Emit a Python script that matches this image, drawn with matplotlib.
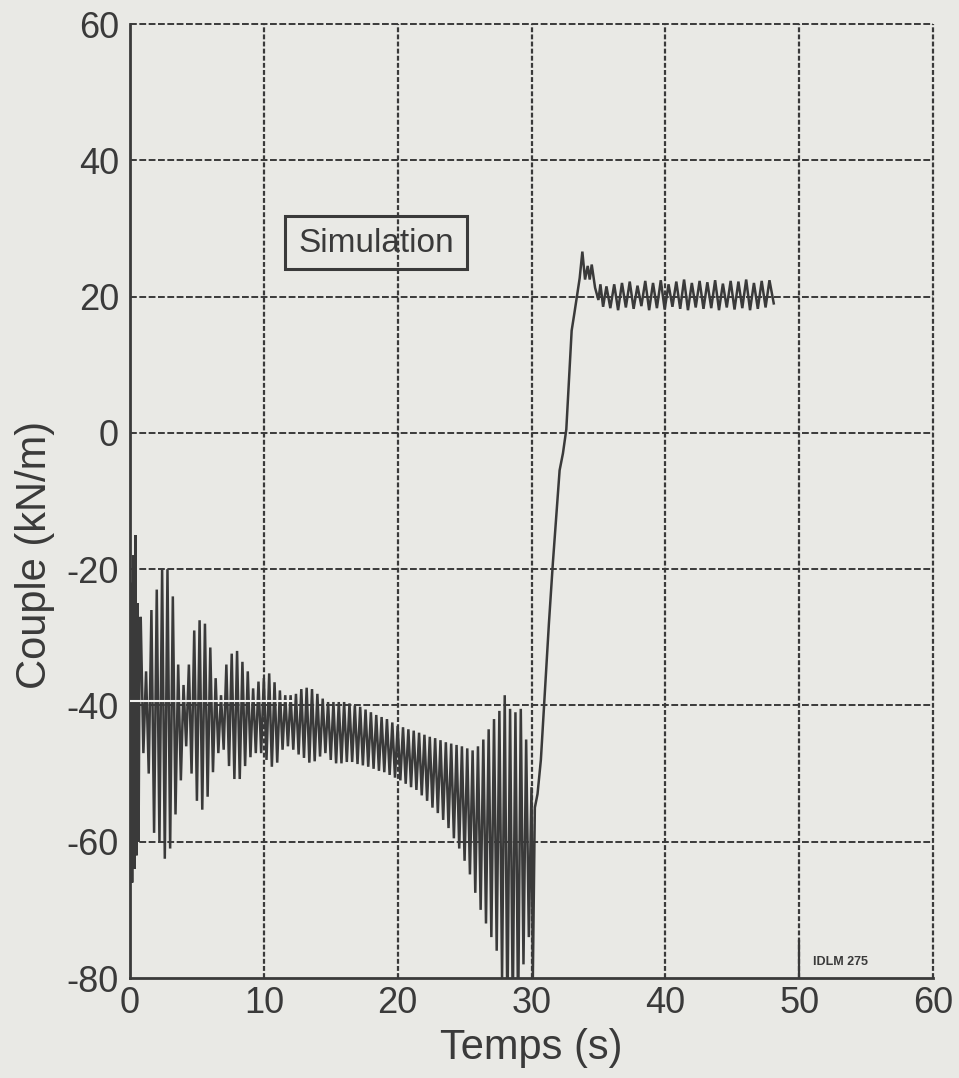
import numpy as np
import matplotlib
matplotlib.use("Agg")
import matplotlib.pyplot as plt
from matplotlib.patches import Rectangle

# ---------------- data ----------------
x_ticks = [0, 10, 20, 30, 40, 50, 60]
y_ticks = [-80, -60, -40, -20, 0, 20, 40, 60]

# start-up transient (0 - 0.8 s)
start_t = [0.0, 0.08, 0.16, 0.24, 0.32, 0.4, 0.48, 0.56, 0.64, 0.72]
start_v = [-40, -22, -66, -18, -64, -15, -62, -25, -60, -30]

# oscillation 0.8 - 30 s: one peak and one trough per period
osc_t0 = 0.8
osc_period = 0.4
osc_peaks = [-27, -35, -26, -23, -20, -20, -24, -34, -37, -34,
             -29, -27.5, -28, -31.5, -36, -38.5, -34, -32.4, -32, -33.6,
             -35, -37.5, -36.5, -36, -35.3, -36.6, -37.8, -38.5, -38.5, -38.3,
             -37.6, -37.4, -37.6, -38.3, -39, -39.5, -39.5, -39.5, -39.5, -39.7,
             -40, -40.2, -40.6, -41, -41.4, -41.7, -42, -42.5, -43, -43.2,
             -43.5, -43.7, -44, -44.3, -44.6, -44.8, -45.1, -45.4, -45.6, -45.8,
             -46, -46.3, -46.6, -46, -45, -43.5, -42, -40.8, -38.5, -40.5,
             -41, -40.5, -45]
osc_troughs = [-47, -50, -58.7, -60, -62.5, -61, -56, -51, -46, -50,
               -54, -55.3, -53.4, -49.8, -47, -46.5, -48.9, -50.8, -50.8, -48.9,
               -47.6, -47, -47, -48, -49, -48.4, -46.5, -46, -46.5, -47.2,
               -47.7, -48.4, -48.2, -47.5, -47, -48, -48.5, -48.5, -48.3, -48.3,
               -48.6, -48.8, -49, -49.3, -49.6, -49.8, -50.2, -50.6, -51, -51.5,
               -52, -52.4, -53.2, -54, -55, -55.8, -56.8, -58, -59.5, -61,
               -62.8, -64.8, -67.5, -70, -72, -74, -76, -80, -86, -85,
               -86, -78, -74]

# rise (30 - 35.4 s)
rise_t = [30.0, 30.1, 30.25, 30.45, 30.7, 31.0, 31.3, 31.6, 32.1, 32.35, 32.6,
          33.0, 33.2, 33.6, 33.8, 34.0, 34.2, 34.35, 34.5, 34.75, 35.0, 35.15, 35.35]
rise_v = [-52, -80, -55, -53, -48, -38, -28, -19, -5.5, -3, 0.5,
          15, 17.5, 22.7, 26.6, 22.5, 24.5, 22.5, 24.7, 21.3, 19.5, 21.8, 18.5]

# steady oscillation (35.6 - 48 s)
steady_t0 = 35.6
steady_period = 0.58
steady_peaks = [21.5, 21.8, 22.0, 22.2, 21.6, 22.3, 22.0, 22.4, 21.8, 22.2, 22.5,
                22.0, 22.3, 22.1, 22.4, 21.9, 22.3, 22.2, 22.5, 22.0, 22.3, 22.4]
steady_troughs = [18.3, 18.0, 18.4, 18.2, 18.6, 18.0, 18.3, 18.1, 18.5, 18.2, 18.0,
                  18.4, 18.2, 18.3, 18.0, 18.4, 18.1, 18.3, 18.0, 18.2, 18.4]
end_t = [48.1]
end_v = [19.0]

# ---------------- assemble series ----------------
osc_t, osc_v = [], []
for k, (p, q) in enumerate(zip(osc_peaks, osc_troughs)):
    osc_t += [osc_t0 + k * osc_period, osc_t0 + k * osc_period + osc_period / 2]
    osc_v += [p, q]
st_t, st_v = [], []
for k, p in enumerate(steady_peaks):
    st_t.append(steady_t0 + k * steady_period)
    st_v.append(p)
    if k < len(steady_troughs):
        st_t.append(steady_t0 + k * steady_period + steady_period / 2)
        st_v.append(steady_troughs[k])

t_all = np.array(start_t + osc_t + rise_t + st_t + end_t)
v_all = np.array(start_v + osc_v + rise_v + st_v + end_v)

# ---------------- style ----------------
plt.rcParams['font.family'] = ['Liberation Sans', 'DejaVu Sans']

paper = '#e9e9e5'
ink = '#3a3a3a'

fig = plt.figure(figsize=(9.59, 10.78), dpi=100, facecolor=paper)
ax = fig.add_axes([130 / 959, 1 - 978 / 1078, (933 - 130) / 959, (978 - 24) / 1078])
ax.set_facecolor(paper)

ax.set_xlim(0, 60)
ax.set_ylim(-80, 60)
ax.set_xticks(x_ticks)
ax.set_yticks(y_ticks)
ax.set_xticklabels([str(v) for v in x_ticks])
ax.set_yticklabels([str(v) for v in y_ticks])
ax.tick_params(length=0, labelsize=26, colors=ink)
ax.tick_params(axis='x', pad=6)
ax.tick_params(axis='y', pad=8)

for s in ['top', 'right']:
    ax.spines[s].set_visible(False)
for s in ['left', 'bottom']:
    ax.spines[s].set_color(ink)
    ax.spines[s].set_linewidth(2)

for xv in x_ticks[1:]:
    ax.axvline(xv, color=ink, lw=1.6, ls=(0, (2.2, 1.0)), zorder=1, clip_on=False)
for yv in y_ticks[1:]:
    ax.axhline(yv, color=ink, lw=1.4, ls=(0, (3.5, 1.3)), zorder=1, clip_on=False)

ax.plot(t_all, v_all, color=ink, lw=1.8, zorder=3, solid_joinstyle='miter')

# white trace artefact on the -40 line
ax.plot([0, 12.1], [-39.3, -39.3], color='#f2f2f0', lw=1.5, zorder=4)

# Simulation box
ax.add_patch(Rectangle((11.6, 24.0), 13.6, 7.8, fill=False, ec=ink, lw=2.2, zorder=5))
ax.text(18.4, 27.8, 'Simulation', ha='center', va='center', fontsize=24, color=ink, zorder=6)

# reference tag
ax.plot([50, 50], [-80, -74.5], color=ink, lw=1.6, zorder=2)
ax.text(53.1, -77.6, 'IDLM 275', ha='center', va='center', fontsize=9, color=ink,
        fontweight='bold')

fig.text(35 / 959, 1 - 555 / 1078, 'Couple (kN/m)', rotation=90, ha='center', va='center',
         fontsize=30, color=ink)
fig.text(531 / 959, 1 - 1048 / 1078, 'Temps (s)', ha='center', va='center',
         fontsize=30, color=ink)

fig.savefig('out.png', dpi=100, facecolor=paper)
